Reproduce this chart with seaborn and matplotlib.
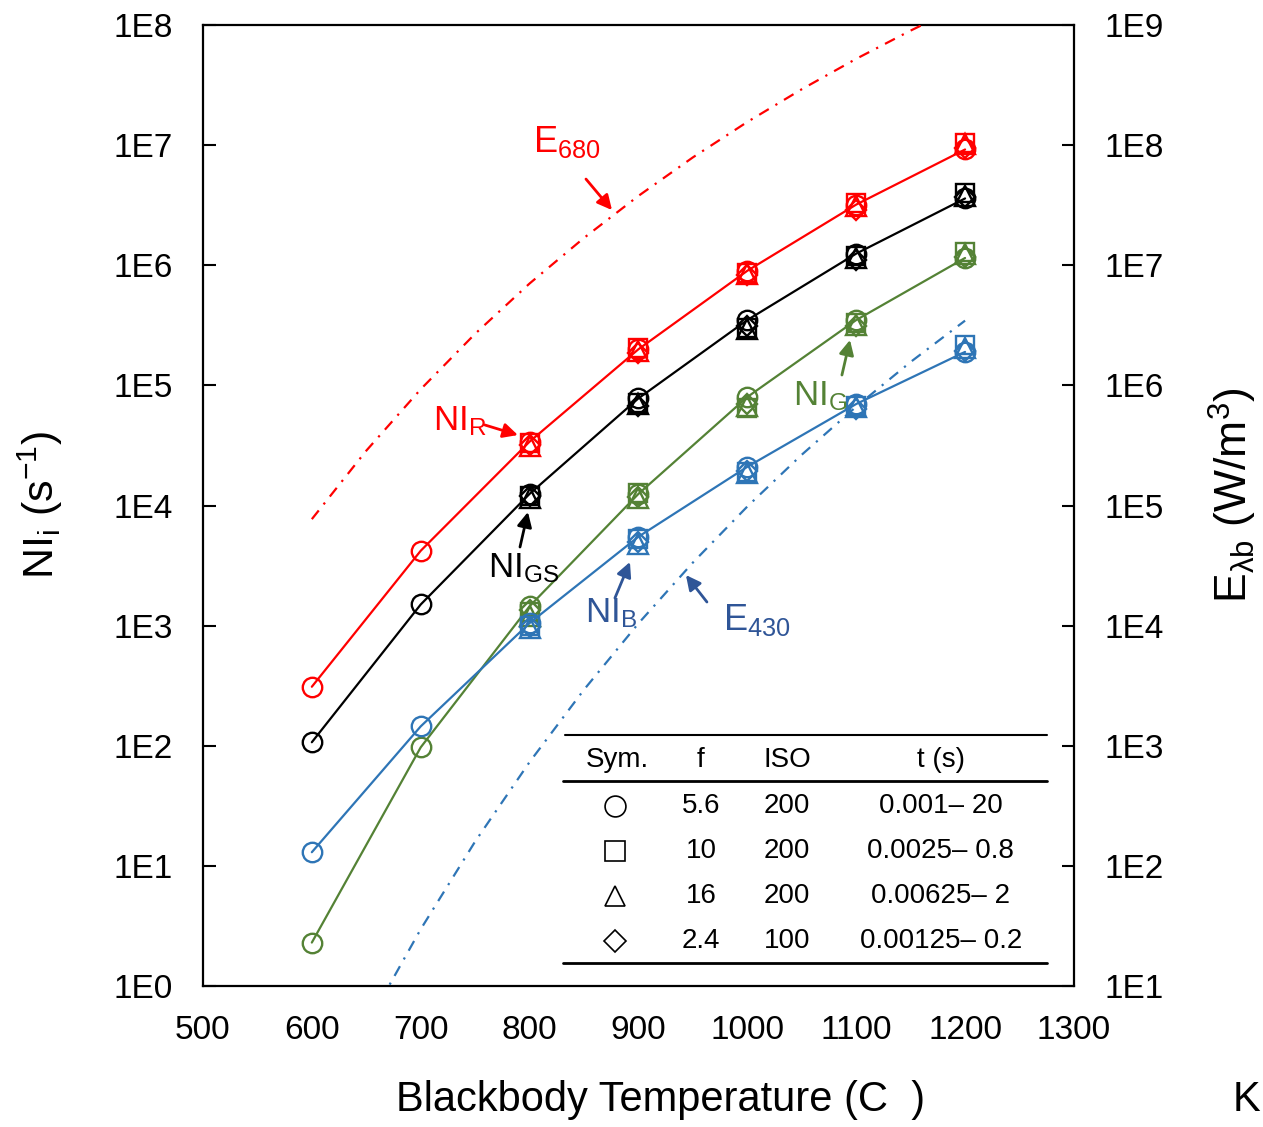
import matplotlib
matplotlib.use('Agg')
import matplotlib.pyplot as plt
import pandas as pd
import seaborn as sns
from matplotlib.ticker import FixedLocator, FixedFormatter, NullLocator

# Data
temps_all = [600, 700, 800, 900, 1000, 1100, 1200]
temps_hi = [800, 900, 1000, 1100, 1200]

# NI_R (red)
red_circle = [310, 4200, 34000, 2.0e5, 9.0e5, 3.2e6, 9.2e6]
red_square = [33000, 2.05e5, 8.6e5, 3.3e6, 1.05e7]
red_triangle = [31000, 1.95e5, 8.4e5, 3.1e6, 1.02e7]
red_diamond = [32000, 1.85e5, 8.3e5, 2.9e6, 9.5e6]

# NI_GS (black)
gs_circle = [107, 1500, 12500, 78000, 3.5e5, 1.25e6, 3.6e6]
gs_square = [12000, 72000, 3.0e5, 1.2e6, 4.0e6]
gs_triangle = [11500, 70000, 2.95e5, 1.15e6, 3.8e6]
gs_diamond = [12000, 68000, 3.1e5, 1.1e6, 3.7e6]

# NI_G (green)
green_circle = [2.3, 97, 1450, 12500, 80000, 3.5e5, 1.15e6]
green_square = [1300, 12800, 65000, 3.3e5, 1.3e6]
green_triangle = [1200, 11500, 68000, 3.2e5, 1.25e6]
green_diamond = [1350, 11800, 70000, 3.1e5, 1.18e6]

# NI_B (blue)
blue_circle = [13, 145, 1050, 5500, 21000, 70000, 1.9e5]
blue_square = [1000, 5300, 19000, 68000, 2.15e5]
blue_triangle = [950, 4800, 18500, 66000, 2.05e5]
blue_diamond = [980, 5000, 19500, 64000, 1.95e5]

# blackbody spectral emissive power (right axis, W/m3)
e680_temps = [600, 650, 700, 750, 800, 850, 900, 950, 1000, 1050, 1100, 1150, 1200]
e680_vals = [7.70e4, 2.86e5, 9.29e5, 2.69e6, 7.05e6, 1.69e7, 3.78e7, 7.91e7,
             1.56e8, 2.92e8, 5.23e8, 8.99e8, 1.49e9]
e430_temps = [650, 700, 750, 800, 850, 900, 950, 1000, 1050, 1100, 1150, 1200]
e430_vals = [4.62, 29.7, 159.6, 732, 2932, 1.044e4, 3.35e4, 9.81e4,
             2.647e5, 6.65e5, 1.567e6, 3.46e6]

left_ticks = [1e0, 1e1, 1e2, 1e3, 1e4, 1e5, 1e6, 1e7, 1e8]
left_labels = ['1E0', '1E1', '1E2', '1E3', '1E4', '1E5', '1E6', '1E7', '1E8']
right_ticks = [1e1, 1e2, 1e3, 1e4, 1e5, 1e6, 1e7, 1e8, 1e9]
right_labels = ['1E1', '1E2', '1E3', '1E4', '1E5', '1E6', '1E7', '1E8', '1E9']

# legend table
sym_markers = ['o', 's', '^', 'D']
f_vals = ['5.6', '10', '16', '2.4']
iso_vals = ['200', '200', '200', '100']
t_ranges = ['0.001\u2013 20', '0.0025\u2013 0.8', '0.00625\u2013 2', '0.00125\u2013 0.2']

RED = '#FF0000'
BLACK = '#000000'
GREEN = '#548235'
BLUE = '#2E75B6'
DBLUE = '#2F5597'

sns.set_theme(style='white')
plt.rcParams['font.family'] = ['Liberation Sans', 'DejaVu Sans']
plt.rcParams['text.color'] = 'black'
plt.rcParams['axes.labelcolor'] = 'black'
plt.rcParams['mathtext.fontset'] = 'custom'
plt.rcParams['mathtext.rm'] = 'Liberation Sans'
plt.rcParams['mathtext.it'] = 'Liberation Sans:italic'
plt.rcParams['mathtext.bf'] = 'Liberation Sans:bold'

bands = [
    ('R', RED, red_circle, red_square, red_triangle, red_diamond),
    ('GS', BLACK, gs_circle, gs_square, gs_triangle, gs_diamond),
    ('G', GREEN, green_circle, green_square, green_triangle, green_diamond),
    ('B', BLUE, blue_circle, blue_square, blue_triangle, blue_diamond),
]
marker_sizes = {'o': 14, 's': 13, '^': 14, 'D': 10}

fig = plt.figure(figsize=(12.63, 11.27), dpi=100)
ax = fig.add_axes([0.1607, 0.1251, 0.6896, 0.8527])

for name, col, circ, sq, tri, dia in bands:
    df_line = pd.DataFrame({'T': temps_all, 'NI': circ})
    sns.lineplot(data=df_line, x='T', y='NI', ax=ax, color=col, lw=1.6,
                 marker='o', ms=marker_sizes['o'], mfc='none', mec=col, mew=1.7)
    for m, vals in zip(['s', '^', 'D'], [sq, tri, dia]):
        df_m = pd.DataFrame({'T': temps_hi, 'NI': vals})
        sns.lineplot(data=df_m, x='T', y='NI', ax=ax, color=col, linestyle='',
                     marker=m, ms=marker_sizes[m], mfc='none', mec=col, mew=1.7)

ax.set_yscale('log')
ax.set_xlim(500, 1300)
ax.set_ylim(1, 1e8)
ax.set_xticks([500, 600, 700, 800, 900, 1000, 1100, 1200, 1300])
ax.yaxis.set_major_locator(FixedLocator(left_ticks))
ax.yaxis.set_major_formatter(FixedFormatter(left_labels))
ax.yaxis.set_minor_locator(NullLocator())
ax.set_xlabel('')
ax.set_ylabel('')
ax.tick_params(axis='both', direction='in', length=9, width=1.5, labelsize=24,
               colors='black')
ax.tick_params(axis='y', pad=22)
ax.tick_params(axis='x', pad=21)
for s in ax.spines.values():
    s.set_color('black')
    s.set_linewidth(1.6)

# right axis: spectral emissive power
ax2 = ax.twinx()
sns.lineplot(x=e680_temps, y=e680_vals, ax=ax2, color=RED, lw=1.6,
             linestyle=(0, (5, 3.5, 1, 3.5)))
sns.lineplot(x=e430_temps, y=e430_vals, ax=ax2, color=BLUE, lw=1.6,
             linestyle=(0, (5, 3.5, 1, 3.5)))
ax2.set_yscale('log')
ax2.set_ylim(10, 1e9)
ax2.set_xlim(500, 1300)
ax2.yaxis.set_major_locator(FixedLocator(right_ticks))
ax2.yaxis.set_major_formatter(FixedFormatter(right_labels))
ax2.yaxis.set_minor_locator(NullLocator())
ax2.set_ylabel('')
ax2.tick_params(axis='y', direction='in', length=9, width=1.5, labelsize=24,
                pad=22, colors='black')
for s in ax2.spines.values():
    s.set_visible(False)

# curve labels and arrows
arrow_kw = dict(arrowstyle='-|>', mutation_scale=22, lw=2, shrinkA=0, shrinkB=0)
ax.text(803.1, 8.77e6, r'E$_{\mathregular{680}}$', color=RED, fontsize=26)
ax.annotate('', xy=(875.7, 2.88e6), xytext=(851.8, 5.22e6),
            arrowprops=dict(color=RED, **arrow_kw))
ax.text(711.3, 4.25e4, r'NI$_{\mathregular{R}}$', color=RED, fontsize=25)
ax.annotate('', xy=(789.3, 3.86e4), xytext=(759.0, 4.68e4),
            arrowprops=dict(color=RED, **arrow_kw))
ax.text(761.8, 2540, r'NI$_{\mathregular{GS}}$', color=BLACK, fontsize=25)
ax.annotate('', xy=(798.5, 8830), xytext=(791.2, 4513),
            arrowprops=dict(color=BLACK, **arrow_kw))
ax.text(850.9, 1072, r'NI$_{\mathregular{B}}$', color=DBLUE, fontsize=25)
ax.annotate('', xy=(892.2, 3388), xytext=(878.4, 1698),
            arrowprops=dict(color=DBLUE, **arrow_kw))
ax.text(977.6, 918, r'E$_{\mathregular{430}}$', color=DBLUE, fontsize=26)
ax.annotate('', xy=(943.6, 2638), xytext=(962.9, 1573),
            arrowprops=dict(color=DBLUE, **arrow_kw))
ax.text(1041.9, 6.87e4, r'NI$_{\mathregular{G}}$', color=GREEN, fontsize=25)
ax.annotate('', xy=(1094.3, 2.39e5), xytext=(1086.9, 1.22e5),
            arrowprops=dict(color=GREEN, **arrow_kw))

# symbol table
tkw = dict(transform=ax.transAxes, fontsize=20, ha='center', va='center', color='black')
ax.plot([0.4156, 0.969], [0.2612, 0.2612], transform=ax.transAxes, color='black', lw=1.5)
ax.plot([0.4133, 0.969], [0.2133, 0.2133], transform=ax.transAxes, color='black', lw=2)
ax.plot([0.4133, 0.969], [0.0239, 0.0239], transform=ax.transAxes, color='black', lw=2)
ax.text(0.4753, 0.2352, 'Sym.', **tkw)
ax.text(0.5718, 0.2352, 'f', **tkw)
ax.text(0.6705, 0.2352, 'ISO', **tkw)
ax.text(0.8473, 0.2352, 't (s)', **tkw)
row_y = [0.1873, 0.1405, 0.0937, 0.0468]
for yy, m, fv, iv, tv in zip(row_y, sym_markers, f_vals, iso_vals, t_ranges):
    ax.plot([0.473], [yy], transform=ax.transAxes, marker=m, ms=marker_sizes[m] + 1,
            mfc='none', mec='black', mew=1.2, ls='')
    ax.text(0.5718, yy, fv, **tkw)
    ax.text(0.6705, yy, iv, **tkw)
    ax.text(0.8473, yy, tv, **tkw)

# axis titles
fig.text(0.0317, 0.552, r'NI$_{\mathregular{i}}$ (s$^{\mathregular{-1}}$)', rotation=90,
         ha='center', va='center', fontsize=31)
fig.text(0.976, 0.561, r'E$_{\mathregular{\lambda b}}$ (W/m$^{\mathregular{3}}$)', rotation=90,
         ha='center', va='center', fontsize=32)
fig.text(0.523, 0.024, 'Blackbody Temperature (C  )', ha='center', va='center', fontsize=30)
fig.text(0.987, 0.024, 'K', ha='center', va='center', fontsize=30)

fig.savefig('out.png', dpi=100)
